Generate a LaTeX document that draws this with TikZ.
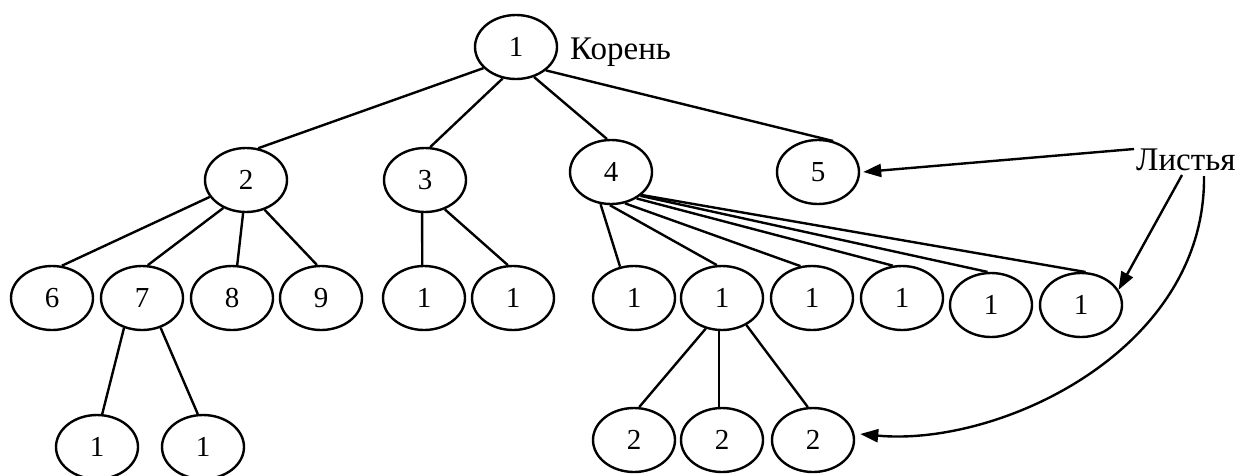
\documentclass[tikz,border=0pt]{standalone}
\usepackage{fontspec}
\setmainfont{Liberation Serif}
\usetikzlibrary{shapes.geometric,arrows.meta}
\begin{document}
\begin{tikzpicture}[x=1pt,y=-1pt,
  vert/.style={draw,ellipse,line width=2.4pt,minimum width=82pt,minimum height=64pt,
    inner sep=0pt,font=\fontsize{29}{29}\selectfont},
  edge/.style={line width=2.4pt},
  pointer/.style={line width=2.4pt,-{Triangle[length=18pt,width=13pt]}},
  caption/.style={inner sep=0pt,font=\fontsize{33}{33}\selectfont}]
\useasboundingbox (0,0) rectangle (1241,475);
% tree vertices
\node[vert] (r)  at (516,47)  {1};
\node[vert] (n2) at (246,180) {2};
\node[vert] (n3) at (425,180) {3};
\node[vert] (n4) at (611,172) {4};
\node[vert] (n5) at (818,172) {5};
\node[vert] (n6) at (52,298)  {6};
\node[vert] (n7) at (142,298) {7};
\node[vert] (n8) at (232,298) {8};
\node[vert] (n9) at (321,298) {9};
\node[vert] (a1) at (424,298) {1};
\node[vert] (a2) at (513,298) {1};
\node[vert] (b1) at (634,298) {1};
\node[vert] (b2) at (722,298) {1};
\node[vert] (b3) at (812,298) {1};
\node[vert] (b4) at (902,298) {1};
\node[vert] (b5) at (991,305) {1};
\node[vert] (b6) at (1081,305) {1};
\node[vert] (c1) at (97,447)  {1};
\node[vert] (c2) at (203,447) {1};
\node[vert] (d1) at (634,440) {2};
\node[vert] (d2) at (722,440) {2};
\node[vert] (d3) at (813,440) {2};
% labels
\node[caption,anchor=base west] (root) at (570,59) {Корень};
\node[caption,anchor=base west] (L) at (1136,170) {Листья};
% edges
\draw[edge] (r.213) -- (n2.69);
\draw[edge] (r.247) -- (n3.81);
\draw[edge] (r.301) -- (n4.97);
\draw[edge] (r.322) -- (n5.64);
\draw[edge] (n2.205) -- (n6.73);
\draw[edge] (n2.231) -- (n7.80);
\draw[edge] (n2.265) -- (n8.81);
\draw[edge] (n2.302) -- (n9.97);
\draw[edge] (n3.265) -- (a1.93);
\draw[edge] (n3.304) -- (a2.99);
\draw[edge] (n4.252) -- (b1.114);
\draw[edge] (n4.268) -- (b2.99);
\draw[edge] (n4.294) -- (b3.110);
\draw[edge] (n4.314) -- (b4.106);
\draw[edge] (n4.321) -- (b5.96);
\draw[edge] (n4.323) -- (b6.82);
\draw[edge] (n7.239) -- (c1.81);
\draw[edge] (n7.302) -- (c2.99);
\draw[edge] (b2.242) -- (d1.81);
\draw[edge] (b2.265) -- (d2.95);
\draw[edge] (b2.312) -- (d3.99);
% pointers from the caption to the leaves
\coordinate (l1) at (1134,149);
\coordinate (l2) at (1182,175);
\coordinate (l3) at (1204,176);
\draw[pointer] (l1) -- ([xshift=3pt]n5.east);
\draw[pointer] (l2) -- (b6.22);
\draw[pointer] (l3) .. controls (1206,350) and (1000,447) .. ([xshift=5pt,yshift=6pt]d3.east);
\end{tikzpicture}
\end{document}
